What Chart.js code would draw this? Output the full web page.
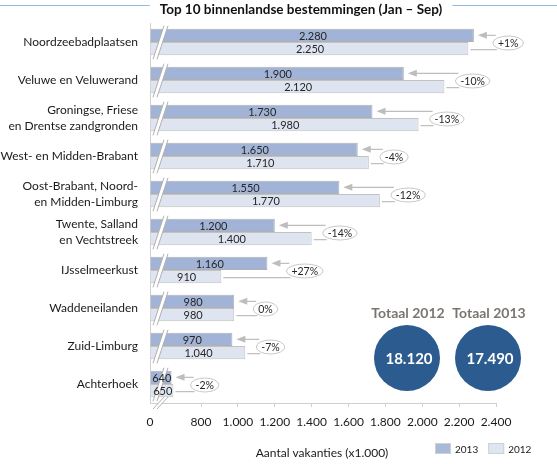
<!DOCTYPE html>
<html>
<head>
<meta charset="utf-8">
<script src="https://cdn.jsdelivr.net/npm/chart.js@4.4.1/dist/chart.umd.min.js"></script>
<style>
  html, body { margin: 0; padding: 0; background: #fff; }
  #wrap { width: 557px; height: 464px; }
</style>
</head>
<body>
<div id="wrap"><canvas id="chart"></canvas></div>
<script>
const categories = [
  "Noordzeebadplaatsen",
  "Veluwe en Veluwerand",
  ["Groningse, Friese", "en Drentse zandgronden"],
  "West- en Midden-Brabant",
  ["Oost-Brabant, Noord-", "en Midden-Limburg"],
  ["Twente, Salland", "en Vechtstreek"],
  "IJsselmeerkust",
  "Waddeneilanden",
  "Zuid-Limburg",
  "Achterhoek"
];
const values2013 = [2280, 1900, 1730, 1650, 1550, 1200, 1160, 980, 970, 640];
const values2012 = [2250, 2120, 1980, 1710, 1770, 1400, 910, 980, 1040, 650];
const changes = ["+1%", "-10%", "-13%", "-4%", "-12%", "-14%", "+27%", "0%", "-7%", "-2%"];
const xTicks = [800, 1000, 1200, 1400, 1600, 1800, 2000, 2200, 2400];
const axisStart = 523; // broken axis, this point is labelled "0"
const totalLabels = ["Totaal 2012", "Totaal 2013"];
const totals = [18120, 17490];

const FONT = "Lato, 'Open Sans', sans-serif";
const GREY = "#bdbdbd";

function fmt(v) {
  return String(v).replace(/\B(?=(\d{3})+(?!\d))/g, ".");
}

const extras = {
  id: "extras",
  afterDatasetsDraw(chart) {
    const { ctx, chartArea, scales } = chart;
    const left = chartArea.left;
    const band = scales.y.height / categories.length;
    const m13 = chart.getDatasetMeta(0).data;
    const m12 = chart.getDatasetMeta(1).data;

    ctx.save();

    // break marks
    const slash = (yTop, yBot) => {
      const dx = 11;
      ctx.beginPath();
      ctx.moveTo(left + 3, yBot);
      ctx.lineTo(left + 3 + dx, yTop);
      ctx.lineTo(left + 7 + dx, yTop);
      ctx.lineTo(left + 7, yBot);
      ctx.closePath();
      ctx.fillStyle = "#fff";
      ctx.fill();
      ctx.strokeStyle = "#b0b0b0";
      ctx.lineWidth = 1;
      ctx.beginPath();
      ctx.moveTo(left + 3, yBot);
      ctx.lineTo(left + 3 + dx, yTop);
      ctx.moveTo(left + 7, yBot);
      ctx.lineTo(left + 7 + dx, yTop);
      ctx.stroke();
    };
    categories.forEach((c, i) => {
      const cy = scales.y.getPixelForValue(i);
      slash(cy - band * 0.35 - 3, cy + band * 0.35 + 4);
    });
    slash(chartArea.bottom - 6, chartArea.bottom + 6);

    // values inside the bars
    ctx.font = "11px " + FONT;
    ctx.fillStyle = "#262626";
    ctx.textAlign = "center";
    ctx.textBaseline = "middle";
    [m13, m12].forEach((meta, d) => {
      const vals = d === 0 ? values2013 : values2012;
      meta.forEach((el, i) => {
        ctx.fillText(fmt(vals[i]), (left + el.x) / 2 + 1, el.y + 1);
      });
    });

    // change ellipses with arrows
    ctx.font = "10.5px " + FONT;
    categories.forEach((c, i) => {
      const a = m13[i], b = m12[i];
      const cy = scales.y.getPixelForValue(i) + 1;
      const tw = ctx.measureText(changes[i]).width;
      const rx = tw / 2 + 5, ry = 7;
      const ex = Math.max(a.x + 19, b.x + 11);
      const cx = ex + rx;

      ctx.strokeStyle = GREY;
      ctx.fillStyle = GREY;
      ctx.lineWidth = 1.2;
      // line from 2012 bar
      ctx.beginPath();
      ctx.moveTo(b.x + 2, b.y + 1);
      ctx.lineTo(ex + 4, b.y + 1);
      ctx.stroke();
      // arrow to 2013 bar
      const tip = a.x + 4;
      ctx.beginPath();
      ctx.moveTo(ex + 3, a.y);
      ctx.lineTo(tip + 7, a.y);
      ctx.stroke();
      ctx.beginPath();
      ctx.moveTo(tip, a.y);
      ctx.lineTo(tip + 9, a.y - 3.5);
      ctx.lineTo(tip + 9, a.y + 3.5);
      ctx.closePath();
      ctx.fill();

      ctx.beginPath();
      ctx.ellipse(cx, cy, rx, ry, 0, 0, Math.PI * 2);
      ctx.fillStyle = "#fff";
      ctx.fill();
      ctx.strokeStyle = "#c8c8c8";
      ctx.lineWidth = 1;
      ctx.stroke();
      ctx.fillStyle = "#262626";
      ctx.fillText(changes[i], cx, cy + 0.5);
    });

    // totals
    const centers = [chartArea.left + 257, chartArea.left + 338];
    totals.forEach((t, k) => {
      const x = centers[k], y = 358;
      ctx.fillStyle = "#7c756f";
      ctx.font = "bold 14px " + FONT;
      ctx.fillText(totalLabels[k], x + 1, 313);
      ctx.beginPath();
      ctx.arc(x, y, 33, 0, Math.PI * 2);
      ctx.fillStyle = "#2b5b8f";
      ctx.fill();
      ctx.fillStyle = "#fff";
      ctx.font = "bold 15px " + FONT;
      ctx.fillText(fmt(t), x + 2, y + 1);
    });

    ctx.restore();
  },
  afterDraw(chart) {
    const { ctx, width } = chart;
    ctx.save();
    // title with rules on both sides
    const title = "Top 10 binnenlandse bestemmingen (Jan \u2013 Sep)";
    ctx.font = "bold 13.5px " + FONT;
    ctx.fillStyle = "#111";
    ctx.textAlign = "center";
    ctx.textBaseline = "middle";
    const tx = 301, tw = ctx.measureText(title).width;
    ctx.fillText(title, tx, 10);
    ctx.strokeStyle = "#95b8e0";
    ctx.lineWidth = 1;
    ctx.beginPath();
    ctx.moveTo(0, 5.5);
    ctx.lineTo(tx - tw / 2 - 10, 5.5);
    ctx.moveTo(tx + tw / 2 + 10, 5.5);
    ctx.lineTo(width, 5.5);
    ctx.stroke();

    // axis title
    ctx.font = "12px " + FONT;
    ctx.fillStyle = "#1a1a1a";
    ctx.fillText("Aantal vakanties (x1.000)", 322, 453);

    // legend
    let lx = 435;
    ctx.font = "10px " + FONT;
    ctx.textAlign = "left";
    chart.data.datasets.forEach(ds => {
      ctx.fillStyle = ds.legendColor;
      ctx.fillRect(lx, 443, 16, 11);
      ctx.strokeStyle = "#d0d0d0";
      ctx.strokeRect(lx + 0.5, 443.5, 15, 10);
      ctx.fillStyle = "#1a1a1a";
      ctx.fillText(ds.label, lx + 20, 449.5);
      lx += 20 + ctx.measureText(ds.label).width + 10;
    });
    ctx.restore();
  }
};

new Chart(document.getElementById("chart"), {
  type: "bar",
  data: {
    labels: categories,
    datasets: [
      {
        label: "2013",
        data: values2013,
        base: axisStart,
        backgroundColor: "#a1b4d7",
        legendColor: "#a9bad9",
        borderColor: "#b0b0b0",
        borderWidth: 1,
        categoryPercentage: 0.7,
        barPercentage: 1
      },
      {
        label: "2012",
        data: values2012,
        base: axisStart,
        backgroundColor: "#dee4f0",
        legendColor: "#e0e6f1",
        borderColor: "#c2c2c2",
        borderWidth: 1,
        categoryPercentage: 0.7,
        barPercentage: 1
      }
    ]
  },
  options: {
    indexAxis: "y",
    responsive: true,
    maintainAspectRatio: false,
    animation: false,
    layout: { padding: { top: 23, right: 61, bottom: 0, left: 0 } },
    plugins: {
      legend: { display: false },
      tooltip: { enabled: false }
    },
    scales: {
      x: {
        type: "linear",
        min: axisStart,
        max: 2400,
        afterBuildTicks: s => { s.ticks = [axisStart, ...xTicks].map(v => ({ value: v })); },
        afterFit: s => { s.height = 61; },
        ticks: {
          callback: v => (v === axisStart ? "0" : fmt(v)),
          font: { family: FONT, size: 12 },
          color: "#1a1a1a",
          padding: 8,
          maxRotation: 0,
          autoSkip: false
        },
        grid: {
          drawOnChartArea: false,
          tickLength: 4,
          color: c => (c.tick && c.tick.value === axisStart ? "rgba(0,0,0,0)" : "#d0d0d0")
        },
        border: { color: "#d0d0d0" }
      },
      y: {
        afterFit: s => { s.width = 150; },
        ticks: {
          font: { family: FONT, size: 12, lineHeight: 1.3 },
          color: "#1a1a1a",
          padding: 12,
          autoSkip: false
        },
        grid: { display: false, drawTicks: false },
        border: { color: "#d0d0d0" }
      }
    }
  },
  plugins: [extras]
});
</script>
</body>
</html>
